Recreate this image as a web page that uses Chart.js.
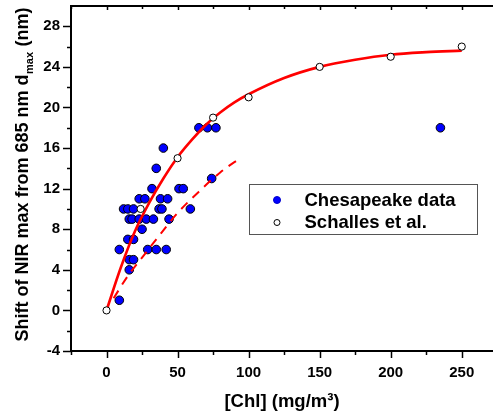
<!DOCTYPE html>
<html>
<head>
<meta charset="utf-8">
<script src="https://cdn.jsdelivr.net/npm/chart.js@4"></script>
<style>
html,body{margin:0;padding:0;background:#fff;overflow:hidden;}
canvas{display:block;}
</style>
</head>
<body>
<canvas id="c" width="493" height="416"></canvas>
<script>
// ---- data ----
const chesX = [9,16,16,19,9,29,35,42,15,19,25,16,18,23,28,33,44,12,15,19,37,39,59,23,27,38,43,32,51,54,74,35,40,65,71,77,235];
const chesY = [1,4,5,5,6,6,6,6,7,7,8,9,9,9,9,9,9,10,10,10,10,10,10,11,11,11,11,12,12,12,13,14,16,18,18,18,18];
const schX = [0,24,50,75,100,150,200,250];
const schY = [0,10,15,19,21,24,25,26];
const fitX = [0,10,20,30,40,50,60,70,80,90,100,125,150,175,200,225,250];
const fitY = [0,4.2,7.8,10.6,13.0,15.1,16.8,18.3,19.5,20.5,21.3,22.9,24.0,24.7,25.2,25.45,25.6];
const dashX = [5,15,25,35,50,65,80,95];
const dashY = [1.2,3.4,5.2,7.0,9.6,11.7,13.6,15.1];
const xTicks = [-25,0,25,50,75,100,125,150,175,200,225,250];
const xMajor = [0,50,100,150,200,250];
const yTicks = [-4,-2,0,2,4,6,8,10,12,14,16,18,20,22,24,26,28];
const yMajor = [-4,0,4,8,12,16,20,24,28];
const seriesNames = ['Chesapeake data','Schalles et al.'];
const xTitle = '[Chl] (mg/m\u00B3)';
const yTitleParts = ['Shift of NIR max from 685 nm d','max',' (nm)'];

const pts = (xs, ys) => xs.map((x,i)=>({x:x, y:ys[i]}));
const FONT = "'Liberation Sans', Arial, sans-serif";
const noPad = s => { s.paddingTop = 0; s.paddingBottom = 0; s.paddingLeft = 0; s.paddingRight = 0; };

const tickPlugin = {
  id:'ticksAndText',
  afterDraw(chart){
    const ctx = chart.ctx, a = chart.chartArea;
    ctx.save();
    ctx.strokeStyle = '#000';
    ctx.lineWidth = 1.5;
    const xs = chart.scales.x, ys = chart.scales.y;
    xs.ticks.forEach(t=>{
      const p = Math.round(xs.getPixelForValue(t.value))+0.5;
      const len = xMajor.includes(t.value) ? 7 : 4;
      ctx.beginPath(); ctx.moveTo(p, a.bottom); ctx.lineTo(p, a.bottom+len); ctx.stroke();
      ctx.beginPath(); ctx.moveTo(p, a.top); ctx.lineTo(p, a.top+ (xMajor.includes(t.value)?4:3)); ctx.stroke();
    });
    ys.ticks.forEach(t=>{
      const p = Math.round(ys.getPixelForValue(t.value))+0.5;
      const len = yMajor.includes(t.value) ? 8 : 4;
      ctx.beginPath(); ctx.moveTo(a.left-len, p); ctx.lineTo(a.left, p); ctx.stroke();
    });
    // y title with subscript
    const f1 = "bold 18px " + FONT, f2 = "bold 11px " + FONT;
    ctx.font = f1; const w1 = ctx.measureText(yTitleParts[0]).width, w3 = ctx.measureText(yTitleParts[2]).width;
    ctx.font = f2; const w2 = ctx.measureText(yTitleParts[1]).width;
    const total = w1+w2+w3;
    ctx.translate(23, 175);
    ctx.rotate(-Math.PI/2);
    ctx.fillStyle = '#000';
    ctx.textBaseline = 'middle';
    ctx.textAlign = 'left';
    let x0 = -total/2;
    ctx.font = f1; ctx.fillText(yTitleParts[0], x0, 0);
    ctx.font = f2; ctx.fillText(yTitleParts[1], x0+w1+0.5, 7);
    ctx.font = f1; ctx.fillText(yTitleParts[2], x0+w1+w2+1, 0);
    ctx.restore();

    // legend
    ctx.save();
    const lx = 249.5, ly = 184.5, lw = 228, lh = 50;
    ctx.strokeStyle = '#555'; ctx.lineWidth = 1;
    ctx.fillStyle = '#fff';
    ctx.fillRect(lx, ly, lw, lh);
    ctx.strokeRect(lx, ly, lw, lh);
    const ds = chart.data.datasets;
    const rows = [ly+15.5, ly+38];
    [0,1].forEach(i=>{
      const d = ds[i];
      ctx.beginPath();
      ctx.arc(lx+27.5, rows[i], i===0?3.5:3, 0, Math.PI*2);
      ctx.fillStyle = d.backgroundColor; ctx.fill();
      ctx.lineWidth = 1; ctx.strokeStyle = i===0 ? '#0000cc' : '#000'; ctx.stroke();
      ctx.fillStyle = '#000';
      ctx.font = "bold 18.5px " + FONT;
      ctx.textBaseline = 'middle';
      ctx.fillText(d.label, lx+55, rows[i]+0.5);
    });
    ctx.restore();
  }
};

new Chart(document.getElementById('c'), {
  type:'scatter',
  data:{
    datasets:[
      {label:seriesNames[0], data:pts(chesX,chesY), backgroundColor:'#0000ff', borderColor:'#000', borderWidth:1, pointRadius:4.3, order:3},
      {label:seriesNames[1], data:pts(schX,schY), backgroundColor:'#ffffff', borderColor:'#000', borderWidth:1, pointRadius:3.6, order:0},
      {label:'fit', data:pts(fitX,fitY), showLine:true, borderColor:'#ff0000', borderWidth:2.6, pointRadius:0, tension:0.4, cubicInterpolationMode:'monotone', order:1},
      {label:'fit2', data:pts(dashX,dashY), showLine:true, borderColor:'#ff0000', borderWidth:2, borderDash:[9,7], pointRadius:0, tension:0.4, cubicInterpolationMode:'monotone', order:2}
    ]
  },
  options:{
    responsive:false, animation:false, devicePixelRatio:1,
    layout:{autoPadding:false, padding:{top:6,left:0,right:0,bottom:0}},
    plugins:{legend:{display:false}, tooltip:{enabled:false}},
    scales:{
      x:{type:'linear', position:'bottom', min:-25, max:272,
        afterBuildTicks:s=>{s.ticks = xTicks.map(v=>({value:v}));},
        afterFit:s=>{s.height = 65; noPad(s);},
        grid:{drawOnChartArea:false, drawTicks:false},
        border:{display:true, color:'#000', width:2},
        ticks:{padding:13, color:'#000', font:{family:FONT, size:15, weight:'bold'}, maxRotation:0, autoSkip:false,
          callback:v=> xMajor.includes(v) ? String(v) : ''},
        title:{display:true, text:xTitle, color:'#000', font:{family:FONT, size:18.5, weight:'bold'}, padding:{top:0,bottom:3}}
      },
      x2:{type:'linear', position:'top', min:-25, max:272,
        afterBuildTicks:s=>{s.ticks = xTicks.map(v=>({value:v}));},
        afterFit:s=>{s.height = 0; noPad(s);},
        grid:{drawOnChartArea:false, drawTicks:false},
        border:{display:true, color:'#000', width:2},
        ticks:{display:false}
      },
      y:{type:'linear', min:-4, max:30,
        afterBuildTicks:s=>{s.ticks = yTicks.map(v=>({value:v}));},
        afterFit:s=>{s.width = 71; noPad(s);},
        grid:{drawOnChartArea:false, drawTicks:false},
        border:{display:true, color:'#000', width:2},
        ticks:{padding:11, color:'#000', font:{family:FONT, size:15, weight:'bold'}, autoSkip:false,
          callback:v=> yMajor.includes(v) ? String(v) : ''}
      }
    }
  },
  plugins:[tickPlugin]
});
</script>
</body>
</html>
